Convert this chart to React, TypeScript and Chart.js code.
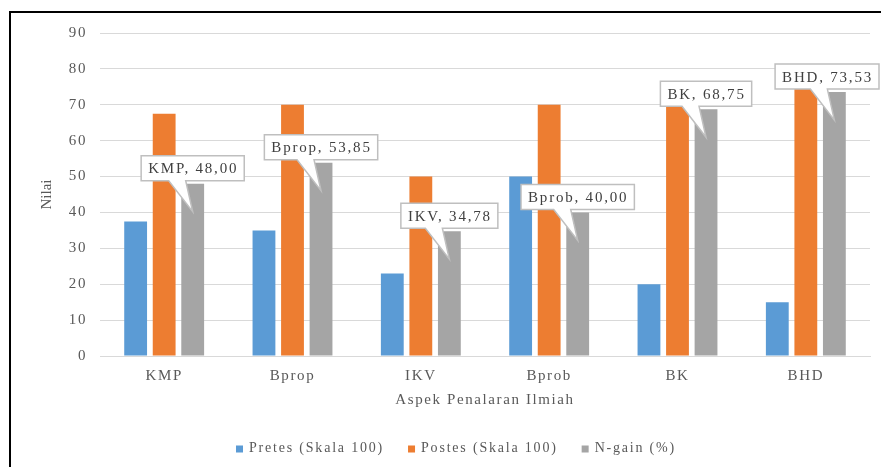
import React, { useEffect, useRef } from 'react';
import { Chart, registerables } from 'chart.js';

Chart.register(...registerables);

const categories = ['KMP', 'Bprop', 'IKV', 'Bprob', 'BK', 'BHD'];
const pretes = [37.5, 35, 23, 50, 20, 15];
const postes = [67.5, 70, 50, 70, 70, 75];
const ngain = [48.0, 53.85, 34.78, 40.0, 68.75, 73.53];
const seriesLabels = ['Pretes (Skala 100)', 'Postes (Skala 100)', 'N-gain (%)'];
const seriesColors = ['#5B9BD5', '#ED7D31', '#A5A5A5'];
const yMin = 0;
const yMax = 90;
const yStep = 10;
const xTitle = 'Aspek Penalaran Ilmiah';
const yTitle = 'Nilai';

const FONT = "'Liberation Serif', 'Times New Roman', serif";
const TEXT = '#595959';

const spacingPlugin = {
  id: 'spacing',
  beforeLayout(chart: any) {
    chart.ctx.letterSpacing = '1.6px';
  },
  beforeDraw(chart: any) {
    chart.ctx.letterSpacing = '1.6px';
  },
};

const yTitlePlugin = {
  id: 'yTitle',
  afterDraw(chart: any) {
    const ctx = chart.ctx;
    const area = chart.chartArea;
    ctx.save();
    ctx.letterSpacing = '0px';
    ctx.font = `15px ${FONT}`;
    ctx.fillStyle = TEXT;
    ctx.translate(47, (area.top + area.bottom) / 2);
    ctx.rotate(-Math.PI / 2);
    ctx.textAlign = 'center';
    ctx.textBaseline = 'middle';
    ctx.fillText(yTitle, 0, 0);
    ctx.restore();
  },
};

const calloutPlugin = {
  id: 'callouts',
  afterDatasetsDraw(chart: any) {
    const ctx = chart.ctx;
    const meta = chart.getDatasetMeta(2);
    ctx.save();
    ctx.font = `15px ${FONT}`;
    ctx.letterSpacing = '1.8px';
    meta.data.forEach((bar: any, i: number) => {
      const label = `${categories[i]}, ${ngain[i].toFixed(2).replace('.', ',')}`;
      const tw = ctx.measureText(label).width;
      const w = tw + 13;
      const h = 25;
      const cx = bar.x;
      const top = bar.y;
      let left = cx - w / 2;
      if (left + w > 879) left = 879 - w;
      const bottom = top - 3;
      const boxTop = bottom - h;
      const tipY = top + 28;
      ctx.beginPath();
      ctx.moveTo(left, boxTop);
      ctx.lineTo(left + w, boxTop);
      ctx.lineTo(left + w, bottom);
      ctx.lineTo(cx - 7, bottom);
      ctx.lineTo(cx, tipY);
      ctx.lineTo(cx - 24, bottom);
      ctx.lineTo(left, bottom);
      ctx.closePath();
      ctx.fillStyle = '#ffffff';
      ctx.fill();
      ctx.strokeStyle = '#bfbfbf';
      ctx.lineWidth = 1.5;
      ctx.stroke();
      ctx.fillStyle = '#404040';
      ctx.textAlign = 'left';
      ctx.textBaseline = 'middle';
      ctx.fillText(label, left + 7, boxTop + h / 2 + 1);
    });
    ctx.restore();
  },
};

const legendPlugin = {
  id: 'manualLegend',
  afterDraw(chart: any) {
    const ctx = chart.ctx;
    ctx.save();
    ctx.font = `14px ${FONT}`;
    ctx.letterSpacing = '1.8px';
    const box = 7;
    const gap = 6;
    const spacing = 24;
    const items = chart.data.datasets.map((ds: any) => ({
      label: ds.label as string,
      color: ds.backgroundColor as string,
      w: ctx.measureText(ds.label).width,
    }));
    const total =
      items.reduce((s: number, it: any) => s + box + gap + it.w, 0) + spacing * (items.length - 1);
    let x = 456 - total / 2;
    const y = 448;
    items.forEach((it: any) => {
      ctx.fillStyle = it.color;
      ctx.fillRect(x, y - box / 2 + 1, box, box);
      ctx.fillStyle = TEXT;
      ctx.textAlign = 'left';
      ctx.textBaseline = 'middle';
      ctx.fillText(it.label, x + box + gap, y);
      x += box + gap + it.w + spacing;
    });
    ctx.restore();
  },
};

export default function App() {
  const canvasRef = useRef<HTMLCanvasElement | null>(null);

  useEffect(() => {
    const canvas = canvasRef.current;
    if (!canvas) return;
    const chart = new Chart(canvas, {
      type: 'bar',
      data: {
        labels: categories,
        datasets: [
          { label: seriesLabels[0], data: pretes, backgroundColor: seriesColors[0] },
          { label: seriesLabels[1], data: postes, backgroundColor: seriesColors[1] },
          { label: seriesLabels[2], data: ngain, backgroundColor: seriesColors[2] },
        ],
      },
      options: {
        responsive: false,
        animation: false,
        devicePixelRatio: 1,
        layout: { padding: { top: 33, right: 11, bottom: 0, left: 0 } },
        datasets: { bar: { categoryPercentage: 0.667, barPercentage: 0.8 } },
        plugins: {
          legend: { display: false },
          tooltip: { enabled: false },
        },
        scales: {
          x: {
            grid: { display: false, drawTicks: false },
            border: { display: true, color: '#d9d9d9', width: 1 },
            ticks: { color: TEXT, font: { family: FONT, size: 15 }, padding: 11 },
            title: {
              display: true,
              text: xTitle,
              color: TEXT,
              font: { family: FONT, size: 15 },
              padding: { top: 0, bottom: 58 },
            },
            afterFit: (s: any) => {
              s.height = 111;
            },
          },
          y: {
            min: yMin,
            max: yMax,
            ticks: { stepSize: yStep, color: TEXT, font: { family: FONT, size: 15 }, padding: 13 },
            grid: { color: '#d9d9d9', drawTicks: false, lineWidth: 1 },
            border: { display: false },
            title: { display: false },
            afterFit: (s: any) => {
              s.width = 100;
            },
          },
        },
      } as any,
      plugins: [spacingPlugin, calloutPlugin, legendPlugin, yTitlePlugin],
    });
    return () => chart.destroy();
  }, []);

  return (
    <div
      style={{
        position: 'fixed',
        left: 0,
        top: 0,
        width: 881,
        height: 467,
        background: '#ffffff',
        overflow: 'hidden',
      }}
    >
      <canvas
        ref={canvasRef}
        width={881}
        height={467}
        style={{ position: 'absolute', left: 0, top: 0, width: 881, height: 467 }}
      />
      <div
        style={{
          position: 'absolute',
          left: 9,
          top: 11,
          width: 872,
          height: 456,
          boxSizing: 'border-box',
          borderLeft: '2px solid #000',
          borderTop: '2px solid #000',
          pointerEvents: 'none',
        }}
      />
    </div>
  );
}
